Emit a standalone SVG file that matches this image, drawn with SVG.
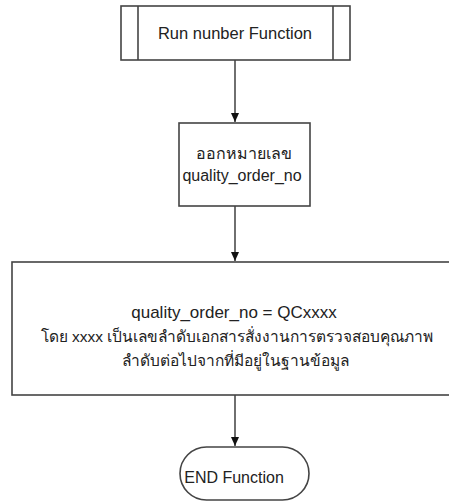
<svg xmlns="http://www.w3.org/2000/svg" width="449" height="503" viewBox="0 0 449 503">
<style>
.shape{fill:#fff;stroke:#444;stroke-width:1.6}
.conn{fill:none;stroke:#333;stroke-width:1.4}
text{font-family:"Liberation Sans","Noto Sans",sans-serif;font-size:16px;fill:#222;text-anchor:middle}
.big{font-size:17px}
.th{font-size:15.5px}
</style>
<defs>
<marker id="ah" markerWidth="10" markerHeight="10" refX="9" refY="5" orient="auto" markerUnits="userSpaceOnUse">
<path d="M0,1 L9,5 L0,9 Z" fill="#111"/>
</marker>
</defs>
<rect x="0" y="0" width="449" height="503" fill="#fff"/>
<g id="connectors">
<line class="conn" x1="235" y1="60" x2="235" y2="122" marker-end="url(#ah)"/>
<line class="conn" x1="235" y1="206" x2="235" y2="261" marker-end="url(#ah)"/>
<line class="conn" x1="235" y1="395" x2="235" y2="446" marker-end="url(#ah)"/>
</g>
<g id="run-function">
<rect class="shape" x="121" y="6" width="229" height="54"/>
<line class="shape" x1="138" y1="6" x2="138" y2="60"/>
<line class="shape" x1="333" y1="6" x2="333" y2="60"/>
<text x="235" y="39" style="font-size:16.5px">Run nunber Function</text>
</g>
<g id="issue-number">
<rect class="shape" x="179" y="123" width="131" height="83"/>
<text x="244" y="159">ออกหมายเลข</text>
<text x="242" y="181">quality_order_no</text>
</g>
<g id="assign">
<rect class="shape" x="12" y="262" width="450" height="133"/>
<text class="big" x="234" y="318">quality_order_no = QCxxxx</text>
<text class="th" x="237" y="342">โดย xxxx เป็นเลขลำดับเอกสารสั่งงานการตรวจสอบคุณภาพ</text>
<text class="th" x="235" y="366">ลำดับต่อไปจากที่มีอยู่ในฐานข้อมูล</text>
</g>
<g id="end-function">
<rect class="shape" x="180" y="447" width="129" height="53" rx="26.5" ry="26.5"/>
<text x="234" y="483">END Function</text>
</g>
</svg>
